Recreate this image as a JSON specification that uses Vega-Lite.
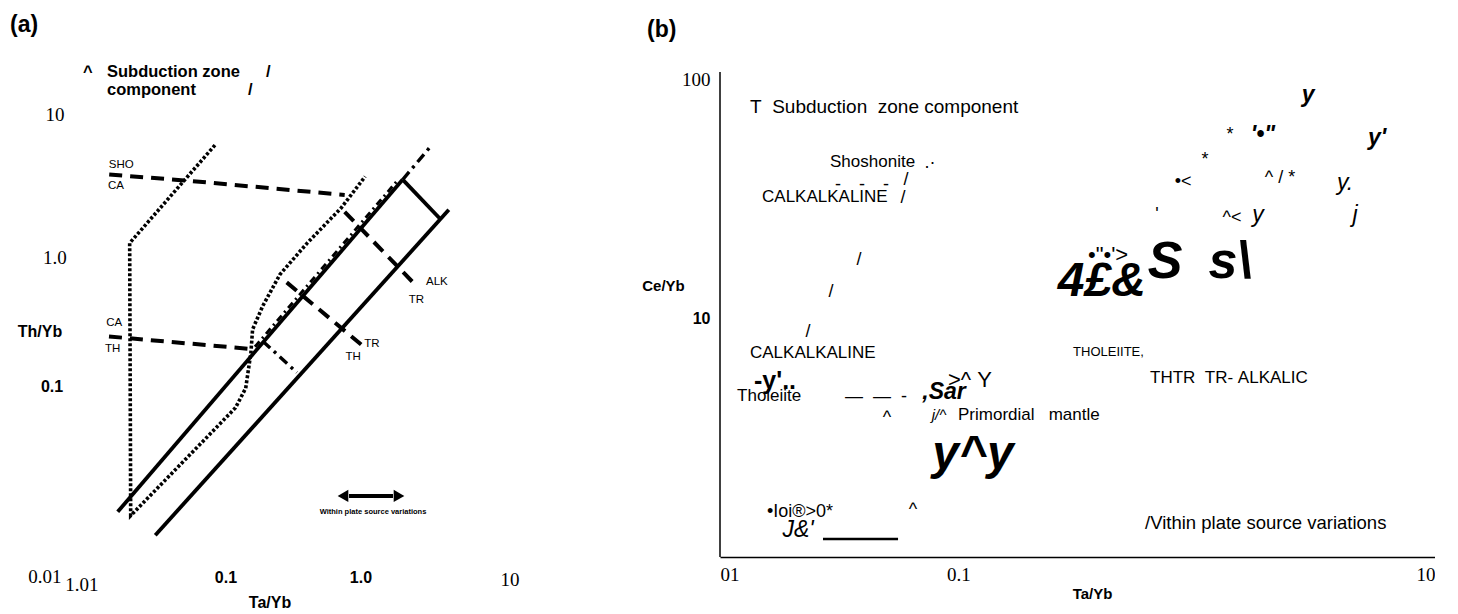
{
  "$schema": "https://vega.github.io/schema/vega-lite/v6.json",
  "background": "white",
  "padding": 0,
  "bounds": "flush",
  "spacing": 120,
  "config": {"view": {"stroke": null}, "font": "Liberation Sans"},
  "hconcat": [
    {
      "width": 600,
      "height": 614,
      "encoding": {
        "x": {"field": "x", "type": "quantitative", "scale": {"type": "log", "domain": [0.00287, 48.2], "nice": false}, "axis": null},
        "y": {"field": "y", "type": "quantitative", "scale": {"type": "log", "domain": [0.00423, 52.5], "nice": false}, "axis": null}
      },
      "layer": [
        {
          "data": {"values": [
            {"line": "upper", "i": 0, "x": 0.01936, "y": 0.02032},
            {"line": "upper", "i": 1, "x": 1.967, "y": 3.332},
            {"line": "lower", "i": 0, "x": 0.03559, "y": 0.01417},
            {"line": "lower", "i": 1, "x": 4.153, "y": 2.096},
            {"line": "box", "i": 0, "x": 1.967, "y": 3.332},
            {"line": "box", "i": 1, "x": 3.618, "y": 1.82}
          ]},
          "mark": {"type": "line", "color": "black", "strokeWidth": 3.8},
          "encoding": {"detail": {"field": "line"}, "order": {"field": "i"}}
        },
        {
          "data": {"values": [
            {"i": 0, "x": 0.1793, "y": 0.2559},
            {"i": 1, "x": 1.822, "y": 3.311}
          ]},
          "mark": {"type": "line", "color": "black", "strokeWidth": 3, "strokeDash": [7, 4, 2, 4]},
          "encoding": {"order": {"field": "i"}}
        },
        {
          "data": {"values": [
            {"i": 0, "x": 0.0937, "y": 5.656},
            {"i": 1, "x": 0.0235, "y": 1.257},
            {"i": 2, "x": 0.02389, "y": 0.01914},
            {"i": 3, "x": 0.1307, "y": 0.1003},
            {"i": 4, "x": 0.1542, "y": 0.1355},
            {"i": 5, "x": 0.1677, "y": 0.233},
            {"i": 6, "x": 0.1724, "y": 0.3342},
            {"i": 7, "x": 0.2035, "y": 0.4794},
            {"i": 8, "x": 0.2685, "y": 0.7762},
            {"i": 9, "x": 0.418, "y": 1.257},
            {"i": 10, "x": 0.7267, "y": 2.161},
            {"i": 11, "x": 1.07, "y": 3.494}
          ]},
          "mark": {"type": "line", "color": "black", "strokeWidth": 3.6, "strokeDash": [3, 2]},
          "encoding": {"order": {"field": "i"}}
        },
        {
          "data": {"values": [
            {"line": "sho", "i": 0, "x": 0.01686, "y": 3.603},
            {"line": "sho", "i": 1, "x": 0.05695, "y": 3.291},
            {"line": "sho", "i": 2, "x": 0.7677, "y": 2.634},
            {"line": "cath", "i": 0, "x": 0.0168, "y": 0.2997},
            {"line": "cath", "i": 1, "x": 0.1677, "y": 0.2474},
            {"line": "tralk", "i": 0, "x": 0.7677, "y": 2.032},
            {"line": "tralk", "i": 1, "x": 2.324, "y": 0.6877},
            {"line": "thtr", "i": 0, "x": 0.2998, "y": 0.6877},
            {"line": "thtr", "i": 1, "x": 1.013, "y": 0.2626}
          ]},
          "mark": {"type": "line", "color": "black", "strokeWidth": 4, "strokeDash": [13, 8]},
          "encoding": {"detail": {"field": "line"}, "order": {"field": "i"}}
        },
        {
          "data": {"values": [
            {"line": "ext", "i": 0, "x": 1.967, "y": 3.332},
            {"line": "ext", "i": 1, "x": 3.147, "y": 5.656},
            {"line": "low", "i": 0, "x": 0.2035, "y": 0.2789},
            {"line": "low", "i": 1, "x": 0.3536, "y": 0.1724}
          ]},
          "mark": {"type": "line", "color": "black", "strokeWidth": 3.4, "strokeDash": [10, 5, 3, 5]},
          "encoding": {"detail": {"field": "line"}, "order": {"field": "i"}}
        },
        {
          "data": {"values": [{"x": 0.8232, "x2": 1.68, "y": 0.0259}]},
          "mark": {"type": "rule", "color": "black", "strokeWidth": 4},
          "encoding": {"x2": {"field": "x2"}}
        },
        {
          "data": {"values": [
            {"end": "l", "x": 0.7469, "y": 0.0259},
            {"end": "r", "x": 1.852, "y": 0.0259}
          ]},
          "mark": {"type": "point", "filled": true, "color": "black", "opacity": 1, "size": 150},
          "encoding": {"shape": {"field": "end", "type": "nominal", "scale": {"domain": ["l", "r"], "range": ["triangle-left", "triangle-right"]}, "legend": null}}
        },
        {
          "data": {"values": [
            {"t": "SHO", "x": 0.02048, "y": 4.188},
            {"t": "CA", "x": 0.01882, "y": 3.006},
            {"t": "CA", "x": 0.01831, "y": 0.366},
            {"t": "TH", "x": 0.01781, "y": 0.2474},
            {"t": "ALK", "x": 3.423, "y": 0.6877},
            {"t": "TR", "x": 2.455, "y": 0.5248},
            {"t": "TR", "x": 1.195, "y": 0.2659},
            {"t": "TH", "x": 0.8812, "y": 0.2192}
          ]},
          "mark": {"type": "text", "align": "center", "baseline": "middle", "font": "Liberation Sans", "fontSize": 11.5, "color": "black"},
          "encoding": {"text": {"field": "t"}}
        },
        {
          "data": {"values": [{"t": "Within plate source variations", "x": 1.215, "y": 0.02026}]},
          "mark": {"type": "text", "align": "center", "baseline": "middle", "font": "Liberation Sans", "fontSize": 7.5, "fontWeight": "bold", "color": "black"},
          "encoding": {"text": {"field": "t"}}
        },
        {
          "data": {"values": [
            {"t": "10", "x": 0.007, "y": 8.98},
            {"t": "1.0", "x": 0.007, "y": 1.0},
            {"t": "0.01", "x": 0.00595, "y": 0.00747},
            {"t": "1.01", "x": 0.01084, "y": 0.00661},
            {"t": "10", "x": 11.2, "y": 0.00714}
          ]},
          "mark": {"type": "text", "align": "center", "baseline": "middle", "font": "Liberation Serif", "fontSize": 19, "color": "black"},
          "encoding": {"text": {"field": "t"}}
        },
        {
          "data": {"values": [
            {"t": "Th/Yb", "x": 0.00549, "y": 0.3211},
            {"t": "0.1", "x": 0.00667, "y": 0.138},
            {"t": "0.1", "x": 0.112, "y": 0.00736},
            {"t": "1.0", "x": 1.0, "y": 0.00736},
            {"t": "Ta/Yb", "x": 0.2287, "y": 0.005012}
          ]},
          "mark": {"type": "text", "align": "center", "baseline": "middle", "font": "Liberation Sans", "fontSize": 16, "fontWeight": "bold", "color": "black"},
          "encoding": {"text": {"field": "t"}}
        },
        {
          "data": {"values": [
            {"t": "^", "x": 0.01102, "y": 17.38},
            {"t": "Subduction  zone", "x": 0.01627, "y": 17.38},
            {"t": "/", "x": 0.2143, "y": 17.38},
            {"t": "component", "x": 0.01627, "y": 13.18},
            {"t": "/", "x": 0.16, "y": 13.18}
          ]},
          "mark": {"type": "text", "align": "left", "baseline": "middle", "font": "Liberation Sans", "fontSize": 16.5, "fontWeight": "bold", "color": "black"},
          "encoding": {"text": {"field": "t"}}
        },
        {
          "data": {"values": [{"t": "(a)", "x": 0.003375, "y": 35.75}]},
          "mark": {"type": "text", "align": "left", "baseline": "middle", "font": "Liberation Sans", "fontSize": 23, "fontWeight": "bold", "color": "black"},
          "encoding": {"text": {"field": "t"}}
        }
      ]
    },
    {
      "width": 715,
      "height": 557,
      "encoding": {
        "x": {
          "field": "x", "type": "quantitative",
          "scale": {"type": "log", "domain": [0.01, 10], "nice": false},
          "axis": {
            "values": [0.01, 0.1, 10],
            "labelExpr": "datum.value < 0.05 ? '01' : (datum.value < 1 ? '0.1' : '10')",
            "labelFont": "Liberation Serif", "labelFontSize": 19, "labelColor": "black",
            "labelPadding": 8, "labelFlush": true, "labelOverlap": false,
            "ticks": false, "grid": false, "domainColor": "black", "domainWidth": 1.5,
            "title": "Ta/Yb", "titleFont": "Liberation Sans", "titleFontSize": 15, "titleFontWeight": "bold", "titleColor": "black",
            "titleX": 372, "titleY": 36, "titleBaseline": "middle", "titleAlign": "center"
          }
        },
        "y": {
          "field": "y", "type": "quantitative",
          "scale": {"type": "log", "domain": [1, 214.1], "nice": false},
          "axis": {
            "values": [10, 100],
            "labelExpr": "datum.value > 50 ? '100' : '10'",
            "labelFont": {"condition": {"test": "datum.value < 50", "value": "Liberation Sans"}, "value": "Liberation Serif"},
            "labelFontWeight": {"condition": {"test": "datum.value < 50", "value": "bold"}, "value": "normal"},
            "labelFontSize": {"condition": {"test": "datum.value < 50", "value": 16}, "value": 19},
            "labelColor": "black", "labelPadding": 10, "labelOverlap": false,
            "ticks": false, "grid": false, "domain": false,
            "title": "Ce/Yb", "titleFont": "Liberation Sans", "titleFontSize": 15, "titleFontWeight": "bold", "titleColor": "black",
            "titleAngle": 0, "titleX": -57, "titleY": 285, "titleAlign": "center", "titleBaseline": "middle"
          }
        }
      },
      "layer": [
        {
          "data": {"values": [{"x": 0.01, "y": 1, "y2": 107}]},
          "mark": {"type": "rule", "color": "black", "strokeWidth": 1.5},
          "encoding": {"y2": {"field": "y2"}}
        },
        {
          "data": {"values": [{"x": 0.02705, "x2": 0.05585, "y": 1.19}]},
          "mark": {"type": "rule", "color": "black", "strokeWidth": 2.5},
          "encoding": {"x2": {"field": "x2"}}
        },
        {
          "data": {"values": [{"t": "T\u00a0\u00a0Subduction\u00a0\u00a0zone\u00a0component", "x": 0.01336, "y": 76.34}]},
          "mark": {"type": "text", "align": "left", "baseline": "middle", "font": "Liberation Sans", "fontSize": 19, "color": "black"},
          "encoding": {"text": {"field": "t"}}
        },
        {
          "data": {"values": [
            {"t": "Shoshonite", "x": 0.02895, "y": 44.96},
            {"t": "CALKALKALINE", "x": 0.01501, "y": 32.08},
            {"t": "CALKALKALINE", "x": 0.01336, "y": 7.139},
            {"t": "Tholeiite", "x": 0.01179, "y": 4.717},
            {"t": "Primordial\u00a0\u00a0\u00a0mantle", "x": 0.0997, "y": 3.928},
            {"t": "THTR\u00a0\u00a0TR-\u00a0ALKALIC", "x": 0.6373, "y": 5.61}
          ]},
          "mark": {"type": "text", "align": "left", "baseline": "middle", "font": "Liberation Sans", "fontSize": 17, "color": "black"},
          "encoding": {"text": {"field": "t"}}
        },
        {
          "data": {"values": [{"t": "/Vithin plate source variations", "x": 0.6074, "y": 1.388}]},
          "mark": {"type": "text", "align": "left", "baseline": "middle", "font": "Liberation Sans", "fontSize": 18.5, "color": "black"},
          "encoding": {"text": {"field": "t"}}
        },
        {
          "data": {"values": [
            {"t": "THOLEIITE,", "x": 0.303, "y": 7.206}
          ]},
          "mark": {"type": "text", "align": "left", "baseline": "middle", "font": "Liberation Sans", "fontSize": 13, "color": "black"},
          "encoding": {"text": {"field": "t"}}
        },
        {
          "data": {"values": [
            {"t": "•Ioi®>0*", "x": 0.01575, "y": 1.543}
          ]},
          "mark": {"type": "text", "align": "left", "baseline": "middle", "font": "Liberation Sans", "fontSize": 18, "color": "black"},
          "encoding": {"text": {"field": "t"}}
        },
        {
          "data": {"values": [
            {"t": "y^y", "x": 0.1153, "y": 2.672},
            {"t": "4£&", "x": 0.4, "y": 14.15}
          ]},
          "mark": {"type": "text", "align": "center", "baseline": "middle", "font": "Liberation Sans", "fontSize": 48, "fontWeight": "bold", "fontStyle": "italic", "color": "black"},
          "encoding": {"text": {"field": "t"}}
        },
        {
          "data": {"values": [
            {"t": "S", "x": 0.7367, "y": 17.15},
            {"t": "s\\", "x": 1.381, "y": 17.15}
          ]},
          "mark": {"type": "text", "align": "center", "baseline": "middle", "font": "Liberation Sans", "fontSize": 52, "fontWeight": "bold", "fontStyle": "italic", "color": "black"},
          "encoding": {"text": {"field": "t"}}
        },
        {
          "data": {"values": [
            {"t": ",Sar", "x": 0.0871, "y": 4.902},
            {"t": "y", "x": 2.934, "y": 85.72},
            {"t": "'•\"", "x": 1.899, "y": 58.3},
            {"t": "y'", "x": 5.715, "y": 56.64}
          ]},
          "mark": {"type": "text", "align": "center", "baseline": "middle", "font": "Liberation Sans", "fontSize": 23, "fontWeight": "bold", "fontStyle": "italic", "color": "black"},
          "encoding": {"text": {"field": "t"}}
        },
        {
          "data": {"values": [
            {"t": "-y'..", "x": 0.01701, "y": 5.45}
          ]},
          "mark": {"type": "text", "align": "center", "baseline": "middle", "font": "Liberation Sans", "fontSize": 25, "fontWeight": "bold", "color": "black"},
          "encoding": {"text": {"field": "t"}}
        },
        {
          "data": {"values": [
            {"t": "y.", "x": 4.196, "y": 36.72},
            {"t": "j", "x": 4.621, "y": 26.98},
            {"t": "y", "x": 1.81, "y": 26.98},
            {"t": "J&'", "x": 0.02125, "y": 1.297}
          ]},
          "mark": {"type": "text", "align": "center", "baseline": "middle", "font": "Liberation Sans", "fontSize": 23, "fontStyle": "italic", "color": "black"},
          "encoding": {"text": {"field": "t"}}
        },
        {
          "data": {"values": [{"t": "j/^", "x": 0.08299, "y": 3.928}]},
          "mark": {"type": "text", "align": "center", "baseline": "middle", "font": "Liberation Sans", "fontSize": 15, "fontStyle": "italic", "color": "black"},
          "encoding": {"text": {"field": "t"}}
        },
        {
          "data": {"values": [
            {"t": ">^\u00a0Y", "x": 0.1119, "y": 5.503},
            {"t": "•\"•'>", "x": 0.4249, "y": 18.34}
          ]},
          "mark": {"type": "text", "align": "center", "baseline": "middle", "font": "Liberation Sans", "fontSize": 22, "color": "black"},
          "encoding": {"text": {"field": "t"}}
        },
        {
          "data": {"values": [
            {"t": "^", "x": 0.05022, "y": 3.816},
            {"t": "^", "x": 0.06455, "y": 1.573},
            {"t": "—\u00a0\u00a0—\u00a0\u00a0-", "x": 0.04514, "y": 4.672},
            {"t": "*", "x": 1.381, "y": 58.3},
            {"t": "*", "x": 1.085, "y": 45.83},
            {"t": "•<", "x": 0.877, "y": 37.07},
            {"t": "^\u00a0/\u00a0*", "x": 2.239, "y": 38.53},
            {"t": "'", "x": 0.6822, "y": 26.98},
            {"t": "^<", "x": 1.408, "y": 26.2},
            {"t": "/", "x": 0.06033, "y": 37.79},
            {"t": "/", "x": 0.05861, "y": 31.78},
            {"t": "/", "x": 0.03831, "y": 17.48},
            {"t": "/", "x": 0.02922, "y": 12.85},
            {"t": "/", "x": 0.0234, "y": 8.738},
            {"t": "-", "x": 0.03127, "y": 36.02},
            {"t": "-", "x": 0.03944, "y": 36.02},
            {"t": "-", "x": 0.04972, "y": 36.02},
            {"t": ".·", "x": 0.07607, "y": 44.52}
          ]},
          "mark": {"type": "text", "align": "center", "baseline": "middle", "font": "Liberation Sans", "fontSize": 18, "color": "black"},
          "encoding": {"text": {"field": "t"}}
        },
        {
          "data": {"values": [{"t": "(b)", "x": 0.004939, "y": 160.3}]},
          "mark": {"type": "text", "align": "left", "baseline": "middle", "font": "Liberation Sans", "fontSize": 23, "fontWeight": "bold", "color": "black"},
          "encoding": {"text": {"field": "t"}}
        }
      ]
    }
  ]
}
